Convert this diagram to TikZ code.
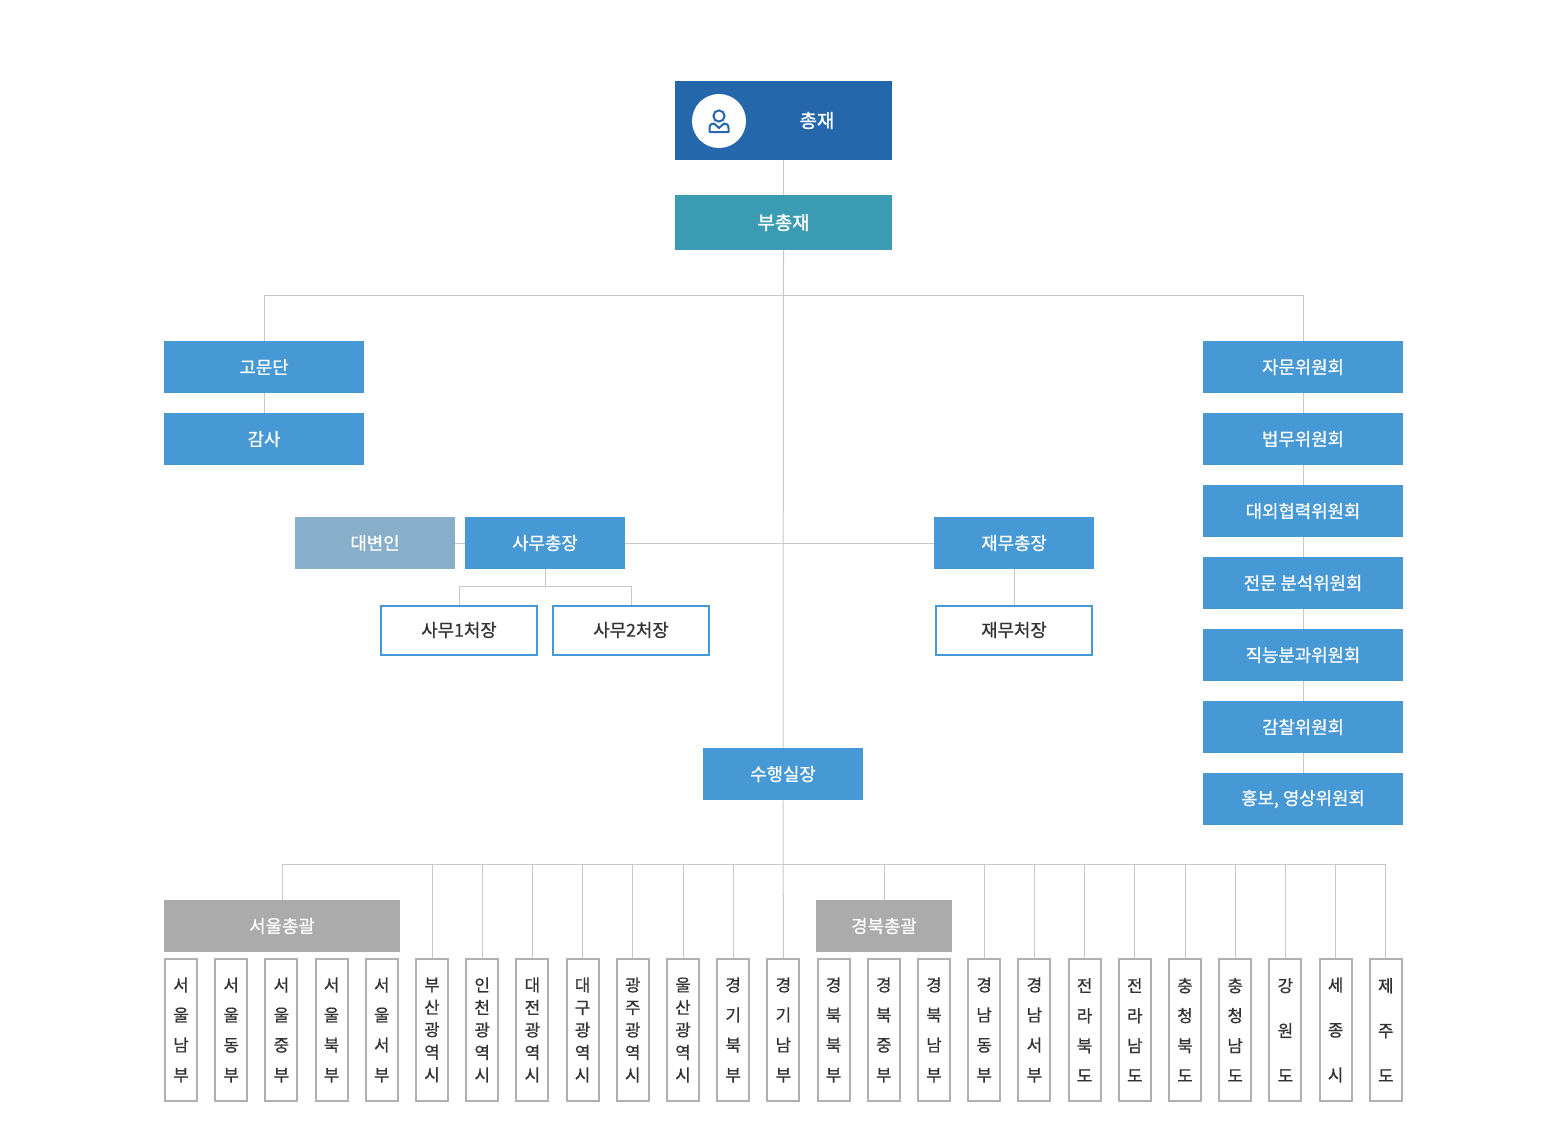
\documentclass[tikz,border=0pt]{standalone}
\usepackage{fontspec}
\setmainfont{Noto Sans CJK KR}
\newfontfamily\medfont{Noto Sans CJK KR}[FakeBold=0.7]
\newfontfamily\boldfont{Noto Sans CJK KR}[FakeBold=1.3]
\usepackage{tikz}

\definecolor{chairblue}{HTML}{2567AB}
\definecolor{viceteal}{HTML}{3A9BB2}
\definecolor{orgblue}{HTML}{4699D5}
\definecolor{spokesblue}{HTML}{88AFCA}
\definecolor{hqgray}{HTML}{ABABAB}
\definecolor{colgray}{HTML}{B0B0B0}
\definecolor{linegray}{HTML}{C8C8C8}
\definecolor{darktext}{HTML}{333333}

\begin{document}
\begin{tikzpicture}[x=0.5pt,y=-0.5pt,
    conn/.style={draw=linegray,line width=0.5pt},
    orgbox/.style={fill=orgblue,text=white,minimum width=100pt,minimum height=26pt,inner sep=0pt,
      font=\medfont\fontsize{8.9}{10}\selectfont},
    midbox/.style={orgbox,minimum width=80pt},
    subbox/.style={draw=orgblue,line width=1pt,fill=white,text=darktext,minimum width=78pt,
      minimum height=24.5pt,inner sep=0pt,font=\medfont\fontsize{8.9}{10}\selectfont},
    hqbox/.style={fill=hqgray,text=white,minimum height=26pt,inner sep=0pt,
      font=\medfont\fontsize{8.9}{10}\selectfont},
    colbox/.style={draw=colgray,line width=1pt,fill=white,text=darktext,minimum width=16pt,
      minimum height=71pt,inner sep=0pt,align=center}]
  \useasboundingbox (0,0) rectangle (1546,1142);

  % top
  \node[fill=chairblue,minimum width=108.5pt,minimum height=39.5pt,inner sep=0pt] (chair) at (783.5,120.5) {};
  \node[text=white,font=\boldfont\fontsize{9.4}{11}\selectfont] (chairlabel) at (817,120.5) {총재};
  \fill[white] (719,121) circle (13.5pt);
  \draw[chairblue,line width=1pt] (719,116) circle (2.8pt);
  \draw[chairblue,line width=1pt,line join=round]
    (709.5,132) -- (709.5,128) .. controls (709.5,124.5) and (711.5,123.5) .. (714,123.5)
    -- (719,128) -- (724,123.5) .. controls (726.5,123.5) and (728.5,124.5) .. (728.5,128)
    -- (728.5,132) -- cycle;
  \node[fill=viceteal,text=white,minimum width=108.5pt,minimum height=27.5pt,inner sep=0pt,
    font=\boldfont\fontsize{9.4}{11}\selectfont] (vice) at (783.5,222.5) {부총재};

  % left and right
  \node[orgbox] (gomun) at (264,367) {고문단};
  \node[orgbox] (gamsa) at (264,439) {감사};
  \node[orgbox] (jamun) at (1303,367) {자문위원회};
  \node[orgbox] (beopmu) at (1303,439) {법무위원회};
  \node[orgbox] (daeoe) at (1303,511) {대외협력위원회};
  \node[orgbox] (jeonmun) at (1303,583) {전문 분석위원회};
  \node[orgbox] (jikneung) at (1303,655) {직능분과위원회};
  \node[orgbox] (gamchal) at (1303,727) {감찰위원회};
  \node[orgbox] (hongbo) at (1303,799) {홍보, 영상위원회};

  % middle
  \node[midbox,fill=spokesblue] (spokes) at (375,543) {대변인};
  \node[midbox] (samu) at (545,543) {사무총장};
  \node[midbox] (jaemu) at (1014,543) {재무총장};
  \node[subbox] (samu1) at (459,630) {사무1처장};
  \node[subbox] (samu2) at (631,630) {사무2처장};
  \node[subbox] (jaemusub) at (1014,630) {재무처장};
  \node[midbox] (suhaeng) at (783,774) {수행실장};

  % bottom
  \node[hqbox,minimum width=118pt] (seoulhq) at (282,926) {서울총괄};
  \node[hqbox,minimum width=68pt] (gbhq) at (884,926) {경북총괄};
  \foreach [count=\i] \txt/\sp in {
      {서\\울\\남\\부}/15, {서\\울\\동\\부}/15, {서\\울\\중\\부}/15, {서\\울\\북\\부}/15,
      {서\\울\\서\\부}/15, {부\\산\\광\\역\\시}/11.25, {인\\천\\광\\역\\시}/11.25,
      {대\\전\\광\\역\\시}/11.25, {대\\구\\광\\역\\시}/11.25, {광\\주\\광\\역\\시}/11.25,
      {울\\산\\광\\역\\시}/11.25, {경\\기\\북\\부}/15, {경\\기\\남\\부}/15,
      {경\\북\\북\\부}/15, {경\\북\\중\\부}/15, {경\\북\\남\\부}/15, {경\\남\\동\\부}/15,
      {경\\남\\서\\부}/15, {전\\라\\북\\도}/15, {전\\라\\남\\도}/15, {충\\청\\북\\도}/15,
      {충\\청\\남\\도}/15, {강\\원\\도}/22.5, {세\\종\\시}/22.5, {제\\주\\도}/22.5}
    \node[colbox,font=\medfont\fontsize{8.4}{\sp}\selectfont] (c\i) at ({181+50.2*(\i-1)},1030) {\txt};

  % connectors
  \coordinate (topbus) at (783.5,295);
  \coordinate (botbus) at (783.5,864);
  \draw[conn] (chair.south) -- (vice.north);
  \draw[conn] (vice.south) -- (suhaeng.north);
  \draw[conn] (gomun.north) |- (topbus) -| (jamun.north);
  \draw[conn] (gomun.south) -- (gamsa.north);
  \draw[conn] (jamun.south) -- (beopmu.north);
  \draw[conn] (beopmu.south) -- (daeoe.north);
  \draw[conn] (daeoe.south) -- (jeonmun.north);
  \draw[conn] (jeonmun.south) -- (jikneung.north);
  \draw[conn] (jikneung.south) -- (gamchal.north);
  \draw[conn] (gamchal.south) -- (hongbo.north);
  \draw[conn] (spokes.east) -- (samu.west);
  \draw[conn] (samu.east) -- (jaemu.west);
  \draw[conn] (samu.south) -- ++(0,17) -| (samu1.north);
  \draw[conn] (samu.south) -- ++(0,17) -| (samu2.north);
  \draw[conn] (jaemu.south) -- (jaemusub.north);
  \draw[conn] (suhaeng.south) -- (c13.north);
  \draw[conn] (seoulhq.north) |- (botbus) -| (c25.north);
  \draw[conn] (gbhq.north) -- (gbhq.north |- botbus);
  \foreach \i in {6,...,12,17,18,...,24}
    \draw[conn] (c\i.north) -- (c\i.north |- botbus);
\end{tikzpicture}
\end{document}
